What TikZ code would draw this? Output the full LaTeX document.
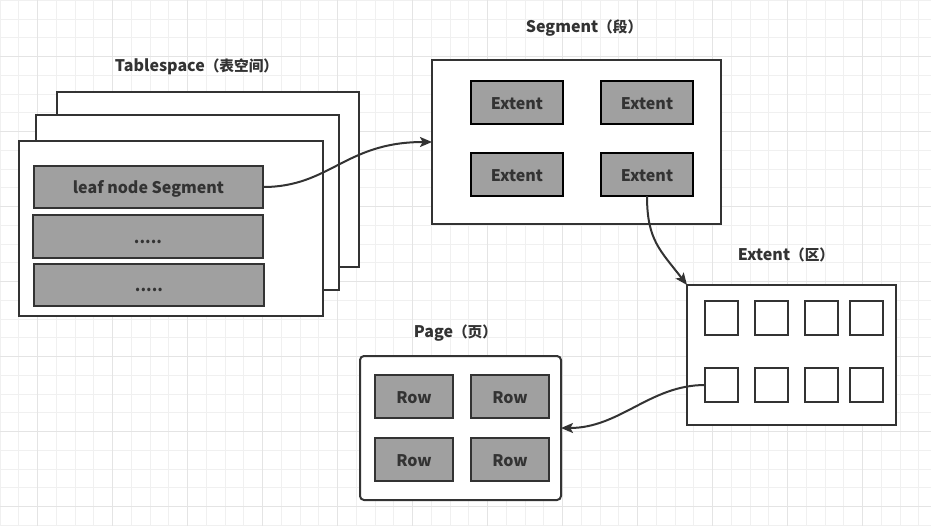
\documentclass[tikz,border=0pt]{standalone}
\usepackage{fontspec}
\setmainfont{Noto Sans CJK SC}
\usetikzlibrary{arrows.meta}
\definecolor{txt}{HTML}{333333}
\definecolor{edge}{HTML}{333333}
\definecolor{gfill}{HTML}{A0A0A0}
\definecolor{gminor}{HTML}{F0F0F0}
\definecolor{gmajor}{HTML}{E4E4E4}
\def\px{0.75pt}
\newcommand\zh[1]{{\fontsize{11pt}{12pt}\selectfont\bfseries #1}}
\begin{document}
\begin{tikzpicture}[x=0.75pt,y=-0.75pt,
  every node/.style={font=\fontsize{12pt}{13pt}\selectfont\bfseries, text=txt, outer sep=0pt, inner sep=0pt, text height=10.2pt, text depth=0pt},
  container/.style={draw=edge, fill=white, line width=1.5pt},
  graybox/.style={draw=edge, fill=gfill, line width=1.5pt},
  extbox/.style={draw=black, fill=gfill, line width=1.5pt, minimum width=92*\px, minimum height=43*\px},
  rowbox/.style={draw=edge, fill=gfill, line width=1.5pt, minimum width=78*\px, minimum height=43*\px},
  sq/.style={draw=edge, fill=white, line width=1.5pt, minimum width=33*\px, minimum height=34*\px},
  title/.style={},
  conn/.style={draw=edge, line width=1.5pt, -{Stealth[length=9pt,width=7.5pt,inset=2pt]}}
]
\useasboundingbox (0,0) rectangle (931,526);
\fill[white] (0,0) rectangle (931,526);
% grid
\foreach \i in {0,...,49} \draw[gminor, line width=0.75pt] ({0.2+18.75*\i},0) -- ({0.2+18.75*\i},526);
\foreach \j in {0,...,28} \draw[gminor, line width=0.75pt] (0,{0.45+18.75*\j}) -- (931,{0.45+18.75*\j});
\foreach \i in {0,...,11} \draw[gmajor, line width=0.75pt] ({37.7+75*\i},0) -- ({37.7+75*\i},526);
\foreach \j in {0,...,6} \draw[gmajor, line width=0.75pt] (0,{56.7+75*\j}) -- (931,{56.7+75*\j});

% Tablespace
\node[title] (tstitle) at (196.5,64.5) {Tablespace\zh{（表空间）}};
\node[container, minimum width=302*\px, minimum height=175*\px] (ts3) at (208,179.5) {};
\node[container, minimum width=303*\px, minimum height=175*\px] (ts2) at (187.5,202.5) {};
\node[container, minimum width=304*\px, minimum height=175*\px] (ts1) at (171,228.5) {};
\node[graybox, minimum width=229*\px, minimum height=42*\px] (leaf) at (148.5,187) {leaf node Segment};
\node[graybox, minimum width=230*\px, minimum height=43*\px] (dots1) at (148,236.5) {.....};
\node[graybox, minimum width=230*\px, minimum height=42*\px] (dots2) at (149,285) {.....};

% Segment
\node[title] (segtitle) at (584,26) {Segment\zh{（段）}};
\node[container, minimum width=289*\px, minimum height=164*\px] (seg) at (576.5,142) {};
\node[extbox] (e1) at (517,102.5) {Extent};
\node[extbox] (e2) at (647,102.5) {Extent};
\node[extbox] (e3) at (517,174.5) {Extent};
\node[extbox] (e4) at (647,174.5) {Extent};

% Extent
\node[title] (exttitle) at (786,253.5) {Extent\zh{（区）}};
\node[container, minimum width=209*\px, minimum height=140*\px] (ext) at (791.5,355) {};
\node[sq] (s11) at (721.5,318) {};
\node[sq] (s12) at (771.5,318) {};
\node[sq] (s13) at (821.5,318) {};
\node[sq] (s14) at (866.5,318) {};
\node[sq] (s21) at (721.5,385) {};
\node[sq] (s22) at (771.5,385) {};
\node[sq] (s23) at (821.5,385) {};
\node[sq] (s24) at (866.5,385) {};

% Page
\node[title] (pagetitle) at (455.5,330.5) {Page\zh{（页）}};
\node[container, rounded corners=3pt, minimum width=201*\px, minimum height=144*\px] (page) at (460.5,428) {};
\node[rowbox] (r1) at (414,396.5) {Row};
\node[rowbox] (r2) at (510,396.5) {Row};
\node[rowbox] (r3) at (414,459.5) {Row};
\node[rowbox] (r4) at (510,459.5) {Row};

% connectors
\draw[conn] (leaf.east) .. controls (330,187) and (345,142) .. (seg.west);
\draw[conn] (e4.south) .. controls (647,240) and (660,250) .. (ext.north west);
\draw[conn] (s21.west) .. controls (650,385) and (620,428) .. (page.east);
\end{tikzpicture}
\end{document}
